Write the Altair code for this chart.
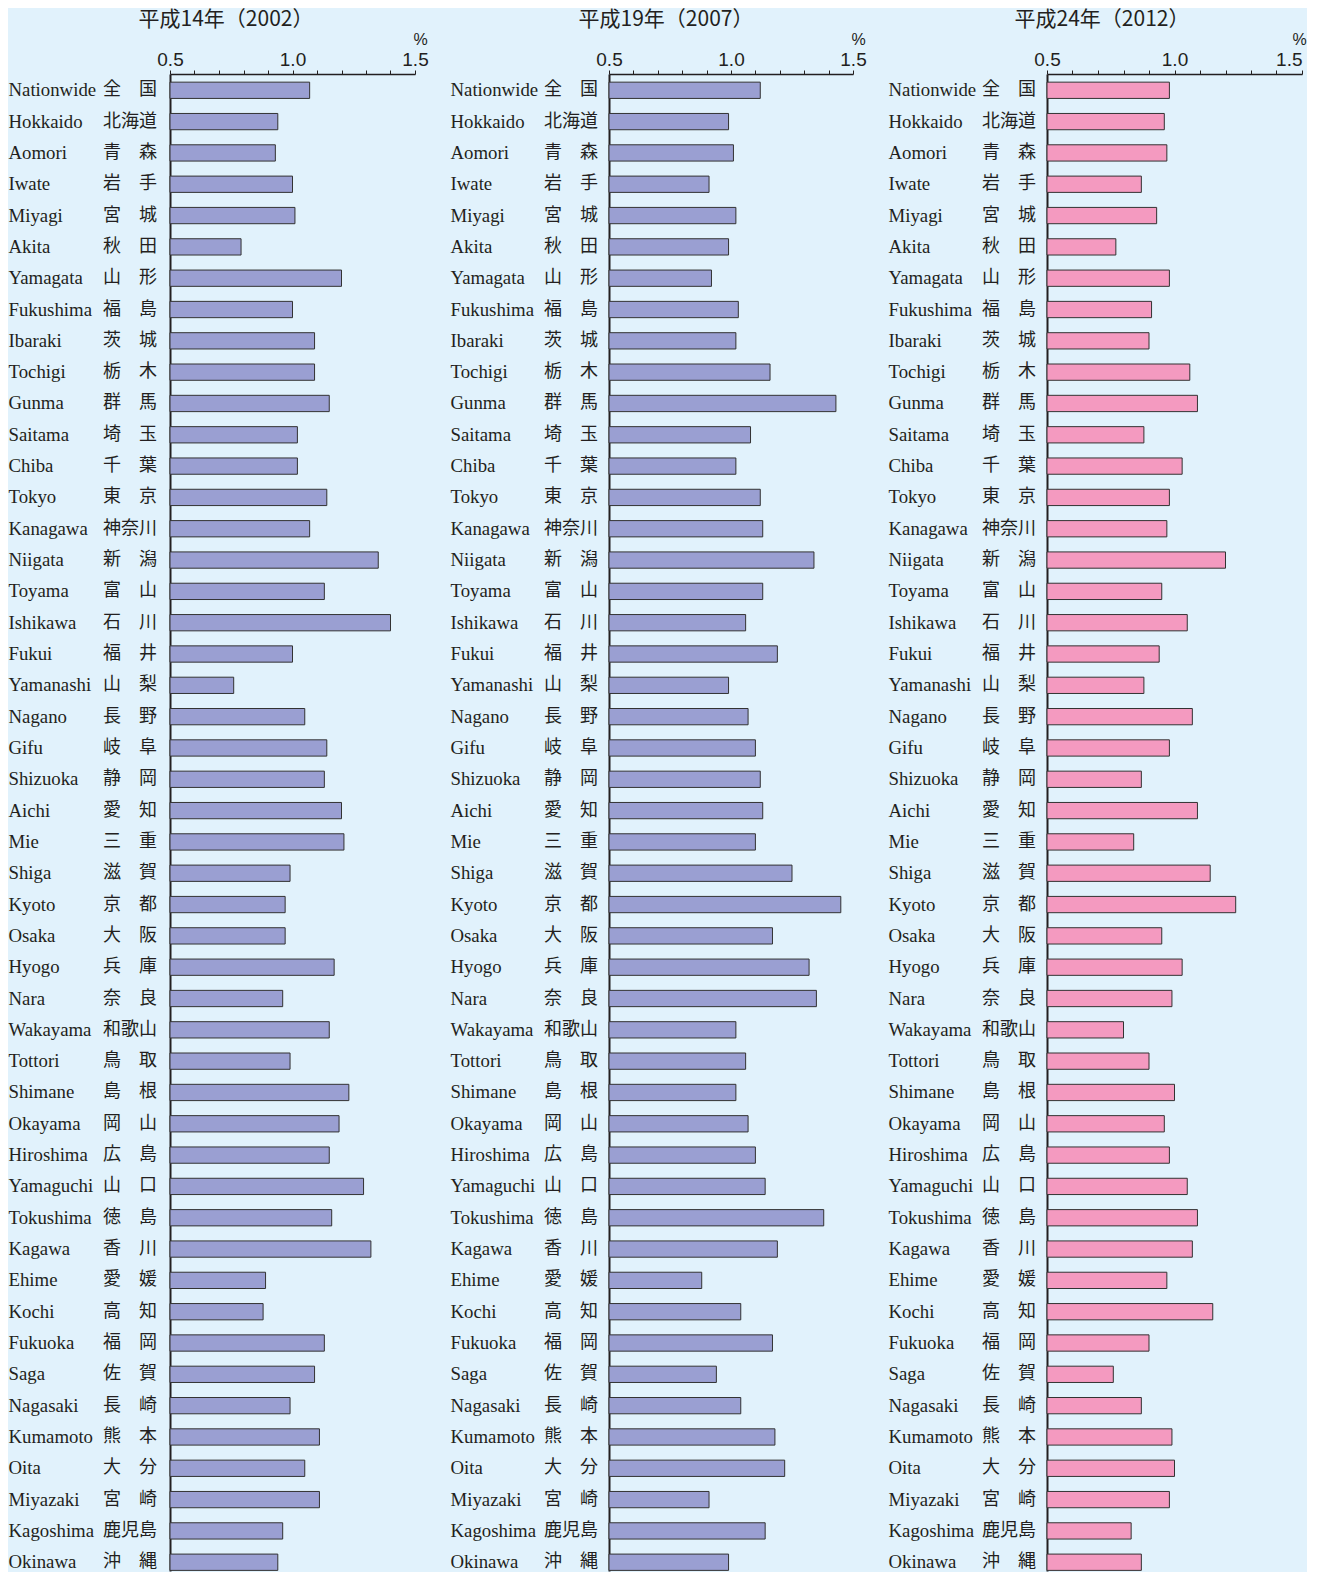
import altair as alt
import pandas as pd

names_en = ["Nationwide", "Hokkaido", "Aomori", "Iwate", "Miyagi", "Akita", "Yamagata",
            "Fukushima", "Ibaraki", "Tochigi", "Gunma", "Saitama", "Chiba", "Tokyo",
            "Kanagawa", "Niigata", "Toyama", "Ishikawa", "Fukui", "Yamanashi", "Nagano",
            "Gifu", "Shizuoka", "Aichi", "Mie", "Shiga", "Kyoto", "Osaka", "Hyogo", "Nara",
            "Wakayama", "Tottori", "Shimane", "Okayama", "Hiroshima", "Yamaguchi",
            "Tokushima", "Kagawa", "Ehime", "Kochi", "Fukuoka", "Saga", "Nagasaki",
            "Kumamoto", "Oita", "Miyazaki", "Kagoshima", "Okinawa"]
names_ja = ["全国", "北海道", "青森", "岩手", "宮城", "秋田", "山形", "福島", "茨城", "栃木",
            "群馬", "埼玉", "千葉", "東京", "神奈川", "新潟", "富山", "石川", "福井", "山梨",
            "長野", "岐阜", "静岡", "愛知", "三重", "滋賀", "京都", "大阪", "兵庫", "奈良",
            "和歌山", "鳥取", "島根", "岡山", "広島", "山口", "徳島", "香川", "愛媛", "高知",
            "福岡", "佐賀", "長崎", "熊本", "大分", "宮崎", "鹿児島", "沖縄"]

v2002 = [1.07, 0.94, 0.93, 1.00, 1.01, 0.79, 1.20, 1.00, 1.09, 1.09, 1.15, 1.02, 1.02, 1.14,
         1.07, 1.35, 1.13, 1.40, 1.00, 0.76, 1.05, 1.14, 1.13, 1.20, 1.21, 0.99, 0.97, 0.97,
         1.17, 0.96, 1.15, 0.99, 1.23, 1.19, 1.15, 1.29, 1.16, 1.32, 0.89, 0.88, 1.13, 1.09,
         0.99, 1.11, 1.05, 1.11, 0.96, 0.94]
v2007 = [1.12, 0.99, 1.01, 0.91, 1.02, 0.99, 0.92, 1.03, 1.02, 1.16, 1.43, 1.08, 1.02, 1.12,
         1.13, 1.34, 1.13, 1.06, 1.19, 0.99, 1.07, 1.10, 1.12, 1.13, 1.10, 1.25, 1.45, 1.17,
         1.32, 1.35, 1.02, 1.06, 1.02, 1.07, 1.10, 1.14, 1.38, 1.19, 0.88, 1.04, 1.17, 0.94,
         1.04, 1.18, 1.22, 0.91, 1.14, 0.99]
v2012 = [0.98, 0.96, 0.97, 0.87, 0.93, 0.77, 0.98, 0.91, 0.90, 1.06, 1.09, 0.88, 1.03, 0.98,
         0.97, 1.20, 0.95, 1.05, 0.94, 0.88, 1.07, 0.98, 0.87, 1.09, 0.84, 1.14, 1.24, 0.95,
         1.03, 0.99, 0.80, 0.90, 1.00, 0.96, 0.98, 1.05, 1.09, 1.07, 0.97, 1.15, 0.90, 0.76,
         0.87, 0.99, 1.00, 0.98, 0.83, 0.87]

titles = ["平成14年（2002）", "平成19年（2007）", "平成24年（2012）"]
tick_values = [0.5, 0.6, 0.7, 0.8, 0.9, 1.0, 1.1, 1.2, 1.3, 1.4, 1.5]

TXT = "#231f20"
BG = "#e1f2fc"
PLOT_H = 1497


def spread(name):
    # two-character names are justified over three character widths
    return name[0] + "\u3000" + name[1] if len(name) == 2 else name


def panel(values, title, color, width, en_pad, ja_x, title_x, pct_dx, last_right=False):
    df = pd.DataFrame({"en": names_en, "ja": [spread(n) for n in names_ja], "v": values})
    y_scale = alt.Scale(paddingInner=0.48, paddingOuter=0.14, align=0.929)
    y_enc = alt.Y(
        "en:N", sort=names_en, scale=y_scale,
        axis=alt.Axis(title=None, orient="left", ticks=False, tickSize=0,
                      labelAlign="left", labelBaseline="middle", labelPadding=en_pad,
                      labelFont="Liberation Serif", labelFontSize=18.8, labelColor=TXT,
                      labelLimit=0, domainColor=TXT, domainWidth=2, grid=False),
    )
    label_align = (
        {"condition": {"test": "datum.value > 1.45", "value": "right"}, "value": "center"}
        if last_right else "center"
    )
    x_enc = alt.X(
        "v:Q",
        scale=alt.Scale(domain=[0.5, 1.5], zero=False, nice=False),
        axis=alt.Axis(orient="top", values=tick_values,
                      labelExpr="(round(datum.value*10) % 5 == 0) ? format(datum.value, '.1f') : ''",
                      labelFont="Liberation Sans", labelFontSize=19, labelColor=TXT,
                      labelAlign=label_align,
                      labelPadding=1, labelOverlap=False, labelFlush=False, labelBound=False,
                      tickSize=4, tickColor=TXT, tickWidth=1, domainColor=TXT, domainWidth=1.5,
                      grid=False, title="%", titleX=width + pct_dx, titleY=-35, titleAngle=0,
                      titleFont="Liberation Sans", titleFontSize=16, titleFontWeight="normal",
                      titleColor=TXT, titleAlign="center", titleBaseline="middle"),
    )
    bars = alt.Chart(df).mark_bar(color=color, stroke="#333333", strokeWidth=1).encode(
        x=x_enc, x2=alt.datum(0.5), y=y_enc
    )
    ja = alt.Chart(df).mark_text(
        align="right", baseline="middle", font="Noto Sans CJK JP", fontSize=18, color=TXT
    ).encode(
        x=alt.value(ja_x), y=alt.Y("en:N", sort=names_en, scale=y_scale), text="ja:N"
    )
    ttl = alt.Chart(pd.DataFrame({"t": [title]})).mark_text(
        align="center", baseline="middle", font="Noto Sans CJK JP", fontSize=21, color=TXT
    ).encode(
        x=alt.value(title_x), y=alt.value(-54), text="t:N"
    )
    return alt.layer(bars, ja, ttl).properties(width=width, height=PLOT_H)


p1 = panel(v2002, titles[0], "#9a9fd2", 245, 162, -13, 56, 5)
p2 = panel(v2007, titles[1], "#9a9fd2", 244, 159, -11, 57, 5)
p3 = panel(v2012, titles[2], "#f49ac0", 255, 159, -11, 55, -3, last_right=True)

chart = alt.hconcat(p1, p2, p3, spacing=194, bounds="flush").properties(
    background=BG, padding={"top": 1, "left": 0, "right": 0, "bottom": 0}
).configure_view(stroke=None)

chart.save("out.html", embed_options={"renderer": "svg", "actions": False})
